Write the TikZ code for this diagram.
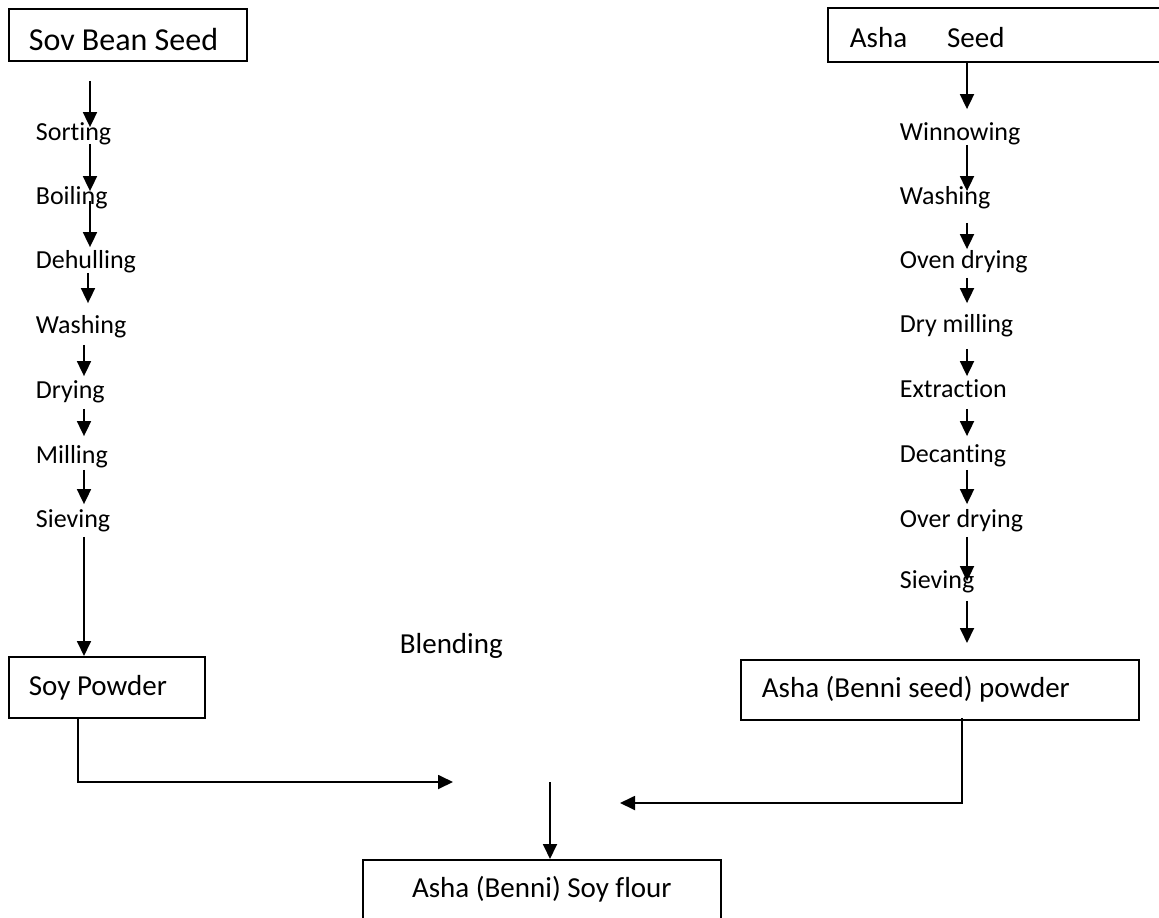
\documentclass[tikz,border=0pt]{standalone}
\usepackage{fontspec}
\setmainfont[Ligatures=NoCommon]{Carlito}
\usetikzlibrary{arrows.meta}

\begin{document}
\begin{tikzpicture}[
    x=1pt, y=-1pt,
    line width=1.8pt,
    stepL/.style={anchor=base west, inner sep=0pt, text height=17pt, text depth=5pt, font=\fontsize{26}{30}\selectfont},
    box/.style={rectangle, draw=black, anchor=north west, inner ysep=0pt, text height=20pt, text depth=4pt, font=\fontsize{29}{34}\selectfont},
    arr/.style={draw, -{Triangle[width=14pt, length=15pt]}}
]
\useasboundingbox (0,0) rectangle (1159,918);
\clip (0,0) rectangle (1159,918);

% --- Исходное сырьё ---
\node[box, inner xsep=20pt, minimum height=52pt, text height=34pt, text depth=2pt, font=\fontsize{32}{38}\selectfont] (soyseed) at (8,8) {\makebox[198pt][l]{Sov Bean Seed}};
\node[box, inner xsep=22pt, minimum height=54pt, text height=28pt, text depth=2pt] (ashseed) at (827,7) {\makebox[314pt][l]{Asha\hspace{40pt}Seed}};

% --- Левая ветвь (соя) ---
\node[stepL] (sortL) at (35,140) {Sorting};
\node[stepL] (boilL) at (35,204) {Boiling};
\node[stepL] (dehulL) at (35,268) {Dehulling};
\node[stepL] (washL) at (35,333) {Washing};
\node[stepL] (dryL) at (35,398) {Drying};
\node[stepL] (millL) at (35,463) {Milling};
\node[stepL] (sievL) at (35,527) {Sieving};
\node[box, inner xsep=20pt, minimum height=61pt] (soyp) at (8,656) {\makebox[156pt][l]{Soy Powder}};

\coordinate (cL) at (90,0);
\coordinate (cL2) at (88,0);
\coordinate (cL3) at (84,0);
\draw[arr] ([yshift=-19pt]soyseed.south -| cL) -- ([yshift=-5pt]sortL.north -| cL);
\draw[arr] ([yshift=2pt]sortL.south -| cL) -- ([yshift=-5pt]boilL.north -| cL);
\draw[arr] ([yshift=9pt]boilL.south -| cL) -- ([yshift=3pt]dehulL.north -| cL);
\draw[arr] ([yshift=1pt]dehulL.south -| cL2) -- ([yshift=12pt]washL.north -| cL2);
\draw[arr] ([yshift=-6pt]washL.south -| cL3) -- ([yshift=4pt]dryL.north -| cL3);
\draw[arr] ([yshift=-5pt]dryL.south -| cL3) -- ([yshift=9pt]millL.north -| cL3);
\draw[arr] ([yshift=-1pt]millL.south -| cL3) -- ([yshift=5pt]sievL.north -| cL3);
\draw[arr] ([yshift=-4pt]sievL.south -| cL3) -- (soyp.north -| cL3);

% --- Правая ветвь (кунжут) ---
\node[stepL] (winnR) at (899,140) {Winnowing};
\node[stepL] (washR) at (899,204) {Washing};
\node[stepL] (ovenR) at (899,268) {Oven drying};
\node[stepL] (drymR) at (899,332) {Dry milling};
\node[stepL] (extrR) at (899,397) {Extraction};
\node[stepL] (decanR) at (899,462) {Decanting};
\node[stepL] (overR) at (899,527) {Over drying};
\node[stepL] (sievR) at (899,588) {Sieving};
\node[box, inner xsep=21pt, minimum height=60pt] (ashp) at (740,659) {\makebox[356pt][l]{Asha (Benni seed) powder}};

\coordinate (cR) at (967,0);
\draw[arr] (ashseed.south -| cR) -- ([yshift=13pt]winnR.north -| cR);
\draw[arr] ([yshift=1pt]winnR.south -| cR) -- ([yshift=-5pt]washR.north -| cR);
\draw[arr] ([yshift=-13pt]washR.south -| cR) -- ([yshift=1pt]ovenR.north -| cR);
\draw[arr] ([yshift=-4pt]ovenR.south -| cR) -- ([yshift=11pt]drymR.north -| cR);
\draw[arr] ([yshift=-11pt]drymR.south -| cR) -- ([yshift=3pt]extrR.north -| cR);
\draw[arr] ([yshift=-6pt]extrR.south -| cR) -- ([yshift=8pt]decanR.north -| cR);
\draw[arr] ([yshift=-2pt]decanR.south -| cR) -- ([yshift=5pt]overR.north -| cR);
\draw[arr] ([yshift=-4pt]overR.south -| cR) -- ([yshift=-11pt]sievR.north -| cR);
\draw[arr] ([yshift=-7pt]sievR.south -| cR) -- ([yshift=16pt]ashp.north -| cR);

% --- Смешивание ---
\node[anchor=base west, inner sep=0pt, font=\fontsize{29}{34}\selectfont] (blend) at (399,653) {Blending};
\node[box, inner xsep=20pt, minimum height=76pt, text depth=20pt] (flour) at (362,859) {\makebox[318pt][c]{Asha (Benni) Soy flour}};

\coordinate (jL) at (78,0);
\coordinate (jR) at (962,0);
\coordinate (inL) at (453,782);
\coordinate (inR) at (620,803);
\coordinate (mix) at (550,782);
\draw[arr] (soyp.south -| jL) |- (inL);
\draw[arr] ([yshift=3pt]ashp.south -| jR) |- (inR);
\draw[arr] (mix) -- (flour.north -| mix);
\end{tikzpicture}
\end{document}
